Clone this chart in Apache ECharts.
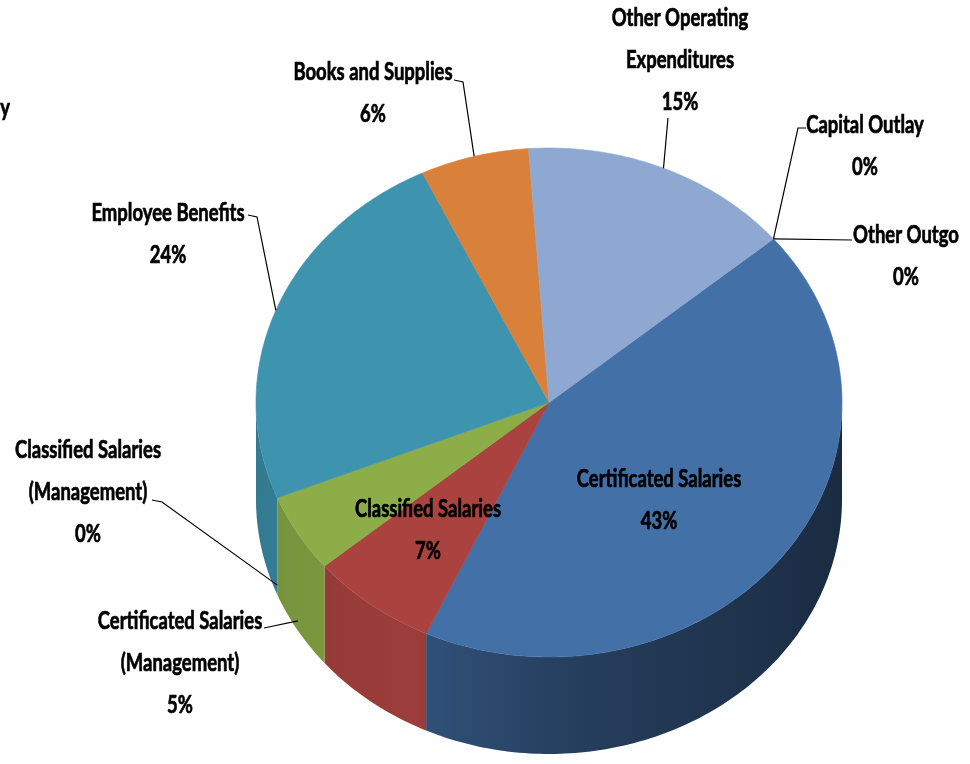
<!DOCTYPE html>
<html>
<head>
<meta charset="utf-8">
<script src="https://cdn.jsdelivr.net/npm/echarts@6.0.0/dist/echarts.min.js"></script>
<style>
html,body{margin:0;padding:0;background:#ffffff;}
#chart{width:970px;height:764px;}
</style>
</head>
<body>
<div id="chart"></div>
<script>
// ---------- DATA ----------
const categories = [
  'Certificated Salaries',
  'Classified Salaries',
  'Certificated Salaries (Management)',
  'Classified Salaries (Management)',
  'Employee Benefits',
  'Books and Supplies',
  'Other Operating Expenditures',
  'Capital Outlay',
  'Other Outgo'
];
const percentValues = [43, 7, 5, 0, 24, 6, 15, 0, 0];
const labelTexts = [
  'Certificated Salaries',
  'Classified Salaries',
  'Certificated Salaries\n(Management)',
  'Classified Salaries\n(Management)',
  'Employee Benefits',
  'Books and Supplies',
  'Other Operating\nExpenditures',
  'Capital Outlay',
  'Other Outgo'
];

// ---------- STYLE / LAYOUT ----------
const sliceColors = ['#4470A8', '#AA433F', '#8CAD48', '#7F5FA0', '#3E93AE', '#D9813A', '#8FA8D2', '#4BACC6', '#A0A0A0'];
const wallMultiplier = [0.80, 1, 1, 1, 1, 1, 1, 1, 1];
const PIE = { cx: 549, cy: 402.5, rx: 293, ry: 254.5, depth: 97, startAngle: 40 };
const FONT = { family: 'Lato', size: 24, lineHeight: 42, scaleX: 0.77 };
const labelLayout = [
  { x: 659, y: 500 },
  { x: 428, y: 530 },
  { x: 180, y: 663, leader: [[264, 628]], drop: 0.9 },
  { x: 88, y: 492, leader: [[152, 500], [162, 502]], drop: 0.9 },
  { x: 168, y: 234, leader: [[248, 215], [257, 217]], drop: 0 },
  { x: 373, y: 93, leader: [[454, 80], [463, 82]], drop: 0 },
  { x: 680, y: 60, leader: [[668, 118]], drop: 0 },
  { x: 865, y: 146, leader: [[806, 128], [798, 128]], drop: 0 },
  { x: 906, y: 256, leader: [[852, 240]], drop: 0 }
];

// ---------- GEOMETRY HELPERS ----------
const total = percentValues.reduce((a, b) => a + b, 0);
const startAngles = [], endAngles = [];
(function () {
  let acc = PIE.startAngle;
  percentValues.forEach(v => { startAngles.push(acc); acc -= 360 * v / total; endAngles.push(acc); });
})();

function pt(deg, drop) {
  const r = deg * Math.PI / 180;
  return [PIE.cx + PIE.rx * Math.cos(r), PIE.cy - PIE.ry * Math.sin(r) + (drop || 0)];
}
function arc(from, to, drop) {
  const pts = [];
  const n = Math.max(2, Math.ceil(Math.abs(to - from)));
  for (let k = 0; k <= n; k++) pts.push(pt(from + (to - from) * k / n, drop));
  return pts;
}
function hexToRgb(h) {
  const n = parseInt(h.slice(1), 16);
  return [(n >> 16) & 255, (n >> 8) & 255, n & 255];
}
function shade(hex, f) {
  const c = hexToRgb(hex).map(v => Math.max(0, Math.min(255, Math.round(v * f))));
  return 'rgb(' + c.join(',') + ')';
}
// wall brightness by (front) angle in [-180, 0]
const shadeKnots = [[-180, 0.82], [-150, 0.86], [-118, 0.92], [-90, 0.72], [-60, 0.6], [-30, 0.52], [0, 0.48]];
function wallFactor(deg) {
  for (let k = 0; k < shadeKnots.length - 1; k++) {
    const a = shadeKnots[k], b = shadeKnots[k + 1];
    if (deg >= a[0] && deg <= b[0]) return a[1] + (b[1] - a[1]) * (deg - a[0]) / (b[0] - a[0]);
  }
  return 0.5;
}
function frontParts(s, e) { // slice spans [e, s], e < s
  const parts = [];
  for (let k = -1; k <= 1; k++) {
    const lo = Math.max(e, -180 + 360 * k), hi = Math.min(s, 360 * k);
    if (hi - lo > 0.01) parts.push([lo, hi, 360 * k]);
  }
  return parts;
}

function renderItem(params, api) {
  const i = params.dataIndex;
  const v = api.value(0);
  const s = startAngles[i], e = endAngles[i];
  const color = sliceColors[i];
  const children = [];

  if (v > 0) {
    frontParts(s, e).forEach(([lo, hi, off]) => {
      const topPts = arc(lo, hi, 0);
      const botPts = arc(hi, lo, PIE.depth);
      const x0 = pt(lo)[0], x1 = pt(hi)[0];
      const stops = [];
      for (let k = 0; k <= 8; k++) {
        const d = lo + (hi - lo) * k / 8;
        const xf = x1 - x0 > 0.5 ? (pt(d)[0] - x0) / (x1 - x0) : k / 8;
        stops.push({ offset: Math.max(0, Math.min(1, xf)), color: shade(color, wallFactor(d - off) * wallMultiplier[i]) });
      }
      children.push({
        type: 'polygon', z2: 1,
        shape: { points: topPts.concat(botPts) },
        style: { fill: { type: 'linear', x: 0, y: 0, x2: 1, y2: 0, colorStops: stops }, stroke: null }
      });
    });
    children.push({
      type: 'polygon', z2: 2,
      shape: { points: [[PIE.cx, PIE.cy]].concat(arc(s, e, 0)) },
      style: { fill: color, stroke: color, lineWidth: 0.6 }
    });
  }

  const L = labelLayout[i];
  if (L.leader) {
    const mid = (s + e) / 2;
    const anchor = pt(mid, (L.drop || 0) * PIE.depth);
    children.push({
      type: 'polyline', z2: 5,
      shape: { points: L.leader.concat([anchor]) },
      style: { stroke: '#000', lineWidth: 1.2, fill: null }
    });
  }
  const pct = Math.round(v / total * 100) + '%';
  children.push({
    type: 'text', z2: 10,
    x: L.x, y: L.y, scaleX: FONT.scaleX,
    style: {
      text: labelTexts[i] + '\n' + pct,
      fontFamily: FONT.family, fontWeight: 'bold', fontSize: FONT.size,
      lineHeight: FONT.lineHeight, align: 'center', verticalAlign: 'middle', fill: '#000',
      stroke: '#000', lineWidth: 0.7
    }
  });
  return { type: 'group', children: children };
}

const chart = echarts.init(document.getElementById('chart'), null, { renderer: 'canvas' });
chart.setOption({
  backgroundColor: '#ffffff',
  animation: false,
  graphic: [{
    type: 'text', left: 0, top: 96, scaleX: FONT.scaleX,
    style: { text: 'y', fontFamily: FONT.family, fontWeight: 'bold', fontSize: FONT.size, fill: '#000', stroke: '#000', lineWidth: 0.7 }
  }],
  series: [{
    type: 'custom',
    coordinateSystem: 'none',
    renderItem: renderItem,
    data: percentValues.map((v, i) => ({ name: categories[i], value: [v] }))
  }]
});
</script>
</body>
</html>
